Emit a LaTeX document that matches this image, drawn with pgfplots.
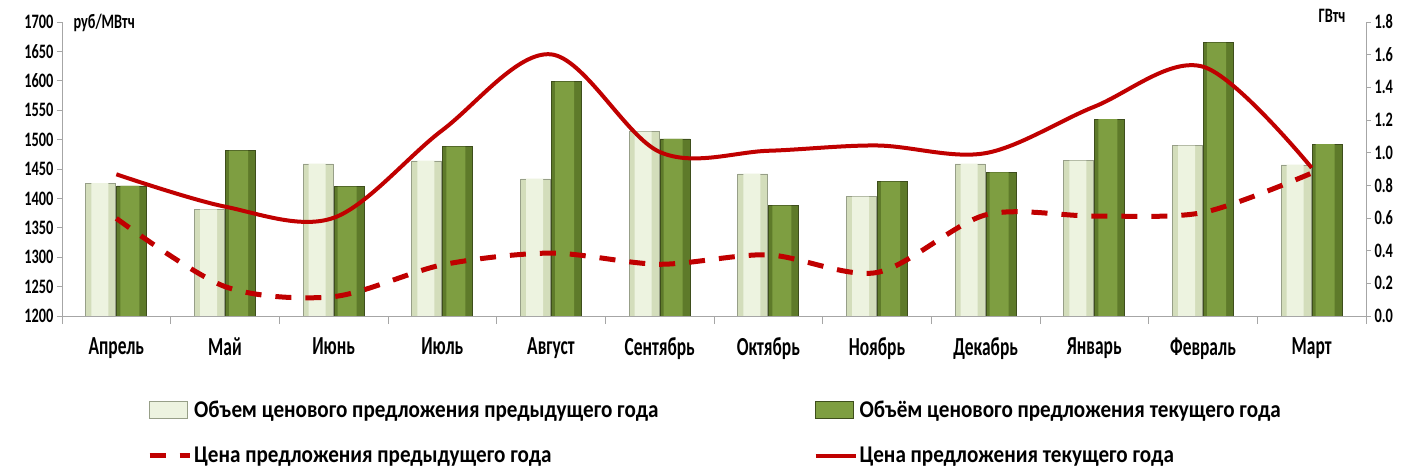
\documentclass[border=0pt]{standalone}
\usepackage{fontspec}
\setmainfont{Carlito}[FakeStretch=0.7]
\newfontfamily\catfont{Carlito}[FakeStretch=0.67]
\newfontfamily\legfont{Carlito}[FakeStretch=0.88]
\usepackage{pgfplots}
\usepackage{pgfplotstable}
\pgfplotsset{compat=1.18}
\definecolor{linered}{HTML}{C00000}
\definecolor{axgray}{HTML}{A6A6A6}
\definecolor{lgBase}{HTML}{D3DDBB}
\definecolor{lgHi}{HTML}{EDF3E0}
\definecolor{lgEdge}{HTML}{979F88}
\definecolor{dgBase}{HTML}{5E7A2A}
\definecolor{dgHi}{HTML}{7E9E41}
\definecolor{dgEdge}{HTML}{3E4E1C}
\pgfplotsset{
  barleg/.style={legend image code/.code={\draw[##1] (0pt,-8pt) rectangle (38pt,9pt);}},
  lineleg/.style={legend image code/.code={\draw[##1] (0pt,0pt) -- (40pt,0pt);}},
}
\pgfplotstableread{
x vprev vcur pprev pcur
0 0.813 0.796 1366 1441
1 0.653 1.012 1250 1386
2 0.931 0.792 1233 1367
3 0.949 1.037 1287 1516
4 0.839 1.435 1307 1645
5 1.129 1.084 1288 1479
6 0.870 0.676 1304 1481
7 0.731 0.822 1274 1490
8 0.931 0.880 1372 1477
9 0.951 1.206 1370 1556
10 1.043 1.674 1376 1624
11 0.925 1.053 1443 1452
}\data
\newcommand{\tickf}{\fontsize{20.5}{24}\selectfont\bfseries}
\newcommand{\catf}{\catfont\fontsize{26}{30}\selectfont\bfseries}
\begin{document}
\begin{tikzpicture}
\path[use as bounding box] (-62pt,-155pt) rectangle (1345pt,316pt);
% bars, right axis
\begin{axis}[
  at={(0,0)}, anchor=south west,
  width=1304pt, height=294pt, scale only axis,
  xmin=-0.5, xmax=11.5, ymin=0, ymax=1.8,
  clip mode=individual,
  axis x line=none,
  axis y line*=right,
  axis line style={axgray, line width=0.8pt, -},
  ytick={0,0.2,...,1.8},
  yticklabel style={font=\tickf, /pgf/number format/.cd, fixed, fixed zerofill, precision=1, assume math mode=true},
  ytick align=outside, major tick length=5pt,
  tick style={axgray, line width=0.8pt},
  ybar, bar width=30pt,
]
\addplot[bar shift=-15.5pt, fill=lgBase, draw=lgEdge, line width=0.7pt] table[x=x, y=vprev] {\data};
\addplot[bar shift=-16.5pt, bar width=17pt, fill=lgHi, draw=none] table[x=x, y=vprev] {\data};
\addplot[bar shift=15.5pt, fill=dgBase, draw=dgEdge, line width=0.7pt] table[x=x, y=vcur] {\data};
\addplot[bar shift=13.5pt, bar width=19pt, fill=dgHi, draw=none] table[x=x, y=vcur] {\data};
\node[anchor=base east, font=\tickf] at (rel axis cs:1,1) [xshift=-17pt, yshift=-1pt] {ГВтч};
\end{axis}
% lines, left axis
\begin{axis}[
  at={(0,0)}, anchor=south west,
  width=1304pt, height=294pt, scale only axis,
  xmin=-0.5, xmax=11.5, ymin=1200, ymax=1700,
  clip mode=individual,
  axis x line*=bottom, axis y line*=left,
  axis line style={axgray, line width=0.8pt, -},
  xtick={0,...,11},
  xticklabels={Апрель,Май,Июнь,Июль,Август,Сентябрь,Октябрь,Ноябрь,Декабрь,Январь,Февраль,Март},
  xticklabel style={font=\catf, yshift=-13pt},
  minor xtick={-0.5,0.5,...,11.5},
  xtick align=outside, ytick align=outside,
  major x tick style={draw=none},
  minor tick length=8pt, major tick length=5pt,
  tick style={axgray, line width=0.8pt},
  ytick={1200,1250,...,1700},
  yticklabel style={font=\tickf, /pgf/number format/.cd, 1000 sep={}, assume math mode=true},
  legend columns=2,
  legend cell align=left,
  legend style={at={(axis description cs:0.0652,-0.282)}, anchor=north west, draw=none, fill=none, inner sep=0pt,
    font=\legfont\fontsize{24}{28}\selectfont\bfseries,
    /tikz/every even column/.append style={column sep=153pt},
    row sep=24pt},
]
\addlegendimage{barleg, fill=lgHi, draw=lgEdge, line width=0.7pt}
\addlegendentry{Объем ценового предложения предыдущего года}
\addlegendimage{barleg, fill=dgHi, draw=dgEdge, line width=0.7pt}
\addlegendentry{Объём ценового предложения текущего года}
\addplot[lineleg, linered, line width=5pt, dash pattern=on 16pt off 14pt, smooth, tension=0.5] table[x=x, y=pprev] {\data};
\addlegendentry{Цена предложения предыдущего года}
\addplot[lineleg, linered, line width=4pt, smooth, tension=0.55] table[x=x, y=pcur] {\data};
\addlegendentry{Цена предложения текущего года}
\node[anchor=base west, font=\tickf] at (rel axis cs:0,1) [xshift=8pt, yshift=-7pt] {руб/МВтч};
\end{axis}
\end{tikzpicture}
\end{document}
